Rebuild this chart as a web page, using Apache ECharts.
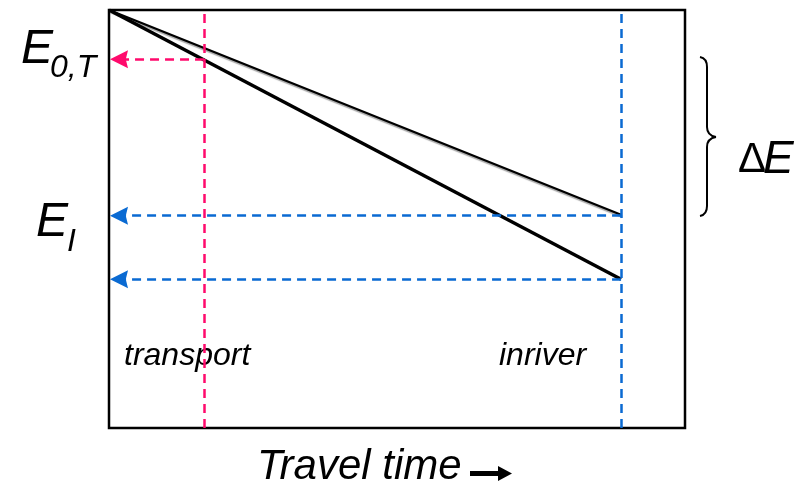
<!DOCTYPE html>
<html>
<head>
<meta charset="utf-8">
<script src="https://cdn.jsdelivr.net/npm/echarts@6/dist/echarts.min.js"></script>
<style>html,body{margin:0;padding:0;background:#fff}#c{width:810px;height:487px}</style>
</head>
<body>
<div id="c"></div>
<script>
// Travel-time positions (share of axis, 0-100)
var travelTimes = { transport: 16.5, inriver: 88.9 };
// Energy lines: [time, energy]
var inriverUpper = [[0, 100], [88.9, 51.0]];
var steepLine = [[0, 100], [88.9, 35.6]];
// Energy levels marked with arrows
var levelE0T = 88.2;
var levelEI = 50.8;
var levelLow = 35.6;
var arrowEndX = 1.74;

var red = '#FF0A6C';
var blue = '#0A6AD2';
var dash = [9, 6];
var arrowSym = 'path://M8,0 L16,16 L8,14 L0,16 Z';
var arrowPx = 18;

var chart = echarts.init(document.getElementById('c'), null, { renderer: 'canvas' });
var ff = '"Liberation Sans", Arial, sans-serif';
function txt(x, y, s, font) {
  return { type: 'text', x: x, y: y, style: { text: s, font: font, fill: '#000', verticalAlign: 'middle', align: 'left' } };
}
function bz(x1, y1, c1x, c1y, c2x, c2y, x2, y2) {
  return { type: 'bezierCurve', shape: { x1: x1, y1: y1, cpx1: c1x, cpy1: c1y, cpx2: c2x, cpy2: c2y, x2: x2, y2: y2 }, style: { fill: null, stroke: '#000', lineWidth: 2 } };
}
function ln(x1, y1, x2, y2) {
  return { type: 'line', shape: { x1: x1, y1: y1, x2: x2, y2: y2 }, style: { stroke: '#000', lineWidth: 2 } };
}
function arrowLine(x0, yv, color) {
  return [{ coord: [x0, yv], symbol: 'none', lineStyle: { color: color, width: 2.5, type: dash } },
          { coord: [arrowEndX, yv], symbol: arrowSym, symbolSize: arrowPx }];
}
chart.setOption({
  animation: false,
  grid: { left: 109, top: 10, width: 576, height: 418, show: true, borderColor: '#000', borderWidth: 2.5, backgroundColor: 'transparent' },
  xAxis: { type: 'value', min: 0, max: 100, show: false },
  yAxis: { type: 'value', min: 0, max: 100, show: false },
  series: [
    {
      type: 'line', data: steepLine, symbol: 'none', silent: true,
      lineStyle: { color: '#000', width: 3.5 },
      markLine: {
        silent: true, animation: false, label: { show: false }, symbol: ['none', 'none'], symbolSize: [arrowPx, arrowPx],
        data: [
          arrowLine(travelTimes.transport, levelE0T, red),
          arrowLine(travelTimes.inriver, levelEI, blue),
          arrowLine(travelTimes.inriver, levelLow, blue),
          { xAxis: travelTimes.transport, symbol: 'none', lineStyle: { color: red, width: 2.5, type: dash } },
          { xAxis: travelTimes.inriver, symbol: 'none', lineStyle: { color: blue, width: 2.5, type: dash } }
        ]
      }
    },
    {
      type: 'line', data: inriverUpper, symbol: 'none', silent: true,
      lineStyle: { color: '#000', width: 2.2, shadowColor: 'rgba(0,0,0,0.35)', shadowBlur: 1, shadowOffsetX: 1, shadowOffsetY: 2 }
    }
  ],
  graphic: [
    txt(21, 49.5, 'E', 'italic 48px ' + ff),
    txt(50, 68.5, '0,T', 'italic 32px ' + ff),
    txt(36, 223, 'E', 'italic 48px ' + ff),
    txt(67, 242, 'I', 'italic 32px ' + ff),
    txt(124, 356, 'transport', 'italic 32px ' + ff),
    txt(499, 356, 'inriver', 'italic 32px ' + ff),
    txt(257, 467, 'Travel time', 'italic 42px ' + ff),
    { type: 'polygon', shape: { points: [[470, 471], [498, 471], [498, 466], [512, 473.5], [498, 481], [498, 476], [470, 476]] }, style: { fill: '#000' } },
    txt(738, 160, '\u0394', '42px ' + ff),
    txt(763, 160, 'E', 'italic 46px ' + ff),
    bz(700, 57, 705, 58, 707, 61, 707, 67),
    ln(707, 67, 707, 127),
    bz(707, 127, 707, 133, 710, 136, 716, 137),
    bz(716, 137, 710, 138, 707, 141, 707, 147),
    ln(707, 147, 707, 206),
    bz(707, 206, 707, 212, 705, 215, 700, 216)
  ]
});
</script>
</body>
</html>
